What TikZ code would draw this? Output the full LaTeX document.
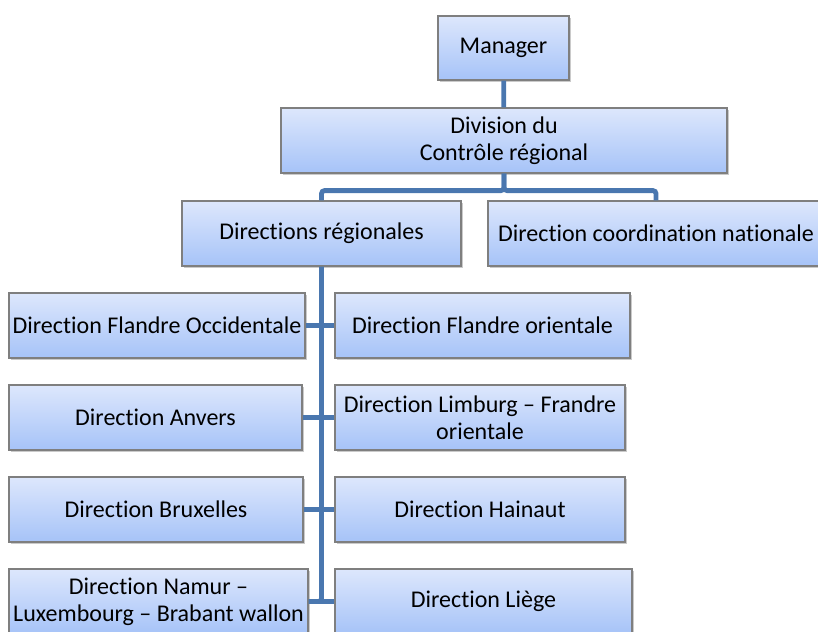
\documentclass[tikz,border=0pt]{standalone}
\usepackage{fontspec}
\setmainfont{Carlito}[Ligatures=NoCommon]
\usepackage{xcolor}
\usetikzlibrary{positioning,shadows}

\definecolor{boxtop}{HTML}{DDE7FC}
\definecolor{boxbottom}{HTML}{A6C3F8}
\definecolor{boxline}{HTML}{7F7F7F}
\definecolor{linkblue}{HTML}{4A77AF}

\tikzset{
  orgbox/.style={draw=boxline, line width=0.6pt, rectangle, align=center,
    top color=boxtop, bottom color=boxbottom, inner sep=0pt,
    minimum height=32.5pt,
    drop shadow={shadow xshift=1pt, shadow yshift=-1.2pt, opacity=0.35, fill=black!60},
    font=\fontsize{12}{13.5}\selectfont},
  link/.style={draw=linkblue, line width=2.4pt, rounded corners=1.5pt}
}

\begin{document}
\begin{tikzpicture}[x=0.5pt, y=-0.5pt, node distance=46pt]
\useasboundingbox (0,0) rectangle (818,631);
% top of the chart
\node [orgbox, minimum width=65.5pt, minimum height=32pt] (manager) at (503.5,48) {Manager};
\node [orgbox, minimum width=223pt] (division) at (504,140.5) {Division du\\Contrôle régional};
\node [orgbox, minimum width=139.5pt] (regionales) at (321.5,233.5) {Directions régionales};
\node [orgbox, minimum width=168pt] (nationale) at (656,233.5) {Direction coordination nationale};

% left column
\node [orgbox, minimum width=148pt] (flandreocc) at (157,325.5) {Direction Flandre Occidentale};
\node [orgbox, minimum width=146.5pt, below of=flandreocc, xshift=-0.75pt] (anvers) {Direction Anvers};
\node [orgbox, minimum width=147pt, below of=anvers, xshift=0.25pt] (bruxelles) {Direction Bruxelles};
\node [orgbox, minimum width=149.5pt, below of=bruxelles, xshift=1.25pt] (namur) {Direction Namur –\\Luxembourg – Brabant wallon};

% right column
\node [orgbox, minimum width=147.5pt] (flandreor) at (482.5,325.5) {Direction Flandre orientale};
\node [orgbox, minimum width=145pt, below of=flandreor, xshift=-1.25pt] (limburg) {Direction Limburg – Frandre\\orientale};
\node [orgbox, minimum width=145pt, below of=limburg] (hainaut) {Direction Hainaut};
\node [orgbox, minimum width=148.5pt, below of=hainaut, xshift=1.75pt] (liege) {Direction Liège};

% links
\draw [link] (manager) -- (division);
\draw [link] (division.south) -- ++(0,17) -| (regionales.north);
\draw [link] (division.south) -- ++(0,17) -| (nationale.north);
\draw [link] (regionales.south) |- (namur.east);
\draw [link] (flandreocc.east) -- (flandreor.west);
\draw [link] (anvers.east) -- (limburg.west);
\draw [link] (bruxelles.east) -- (hainaut.west);
\draw [link] (namur.east) -- (liege.west);
\end{tikzpicture}
\end{document}
